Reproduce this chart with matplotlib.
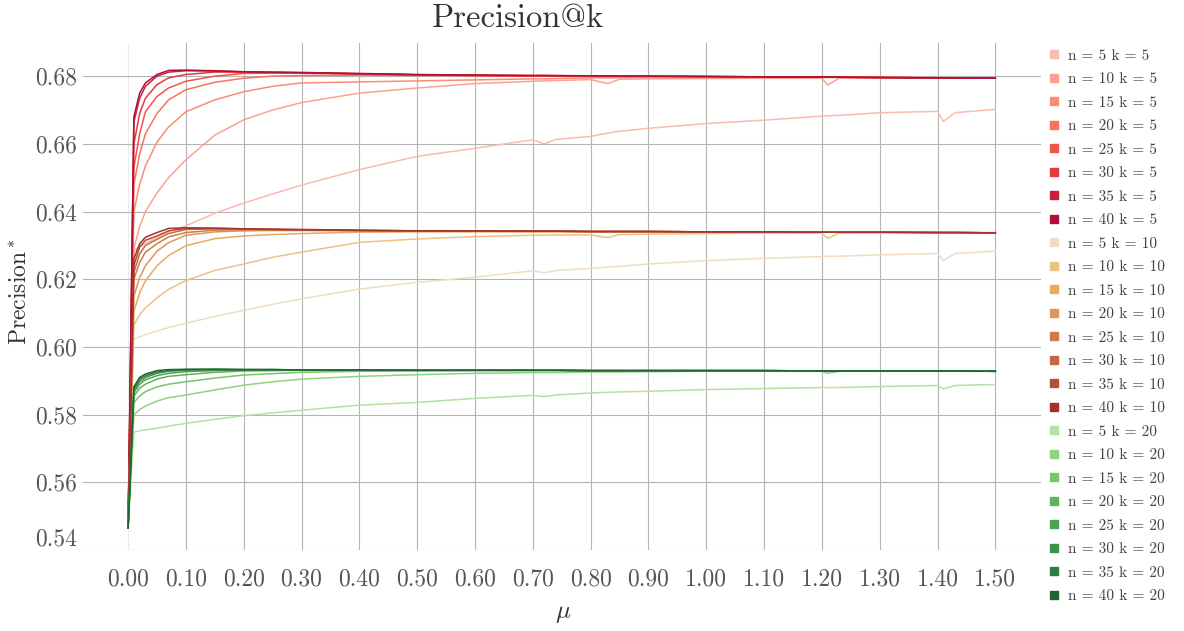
import numpy as np
import matplotlib
matplotlib.use("Agg")
import matplotlib.pyplot as plt
from matplotlib.lines import Line2D
from matplotlib.transforms import ScaledTranslation

plt.rcParams['font.family'] = ['cmr10', 'DejaVu Serif']
plt.rcParams['mathtext.fontset'] = 'cm'
plt.rcParams['axes.formatter.use_mathtext'] = True

mu = [0.00, 0.01, 0.02, 0.03, 0.05, 0.07, 0.10, 0.15, 0.20, 0.25, 0.30, 0.40, 0.50, 0.60, 0.70, 0.72,
      0.74, 0.80, 0.83, 0.85, 0.90, 1.00, 1.10, 1.20, 1.21, 1.23, 1.30, 1.40, 1.41, 1.43, 1.50]

n_values = [5, 10, 15, 20, 25, 30, 35, 40]
k_values = [5, 10, 20]

# k = 5
p_k5 = {}
p_k5[5] = [0.5465, 0.6285, 0.6296, 0.6306, 0.6324, 0.6340, 0.6358, 0.6395, 0.6425, 0.6452, 0.6478, 0.6524, 0.6563, 0.6587, 0.6612, 0.6600,
           0.6613, 0.6622, 0.6632, 0.6637, 0.6646, 0.6660, 0.6670, 0.6682, 0.6683, 0.6684, 0.6692, 0.6696, 0.6666, 0.6692, 0.6702]
p_k5[10] = [0.5465, 0.6290, 0.6355, 0.6400, 0.6455, 0.6500, 0.6553, 0.6626, 0.6671, 0.6700, 0.6722, 0.6750, 0.6765, 0.6778, 0.6785, 0.6786,
            0.6787, 0.6790, 0.6778, 0.6791, 0.6792, 0.6793, 0.6794, 0.6794, 0.6774, 0.6794, 0.6794, 0.6794, 0.6794, 0.6794, 0.6794]
p_k5[15] = [0.5465, 0.6400, 0.6480, 0.6535, 0.6605, 0.6650, 0.6695, 0.6730, 0.6754, 0.6770, 0.6780, 0.6783, 0.6786, 0.6789, 0.6792, 0.6792,
            0.6793, 0.6795, 0.6795, 0.6795, 0.6796, 0.6796, 0.6796, 0.6796, 0.6796, 0.6796, 0.6796, 0.6795, 0.6795, 0.6795, 0.6795]
p_k5[20] = [0.5465, 0.6480, 0.6570, 0.6630, 0.6690, 0.6730, 0.6760, 0.6782, 0.6794, 0.6800, 0.6802, 0.6803, 0.6802, 0.6801, 0.6800, 0.6800,
            0.6800, 0.6799, 0.6799, 0.6799, 0.6799, 0.6798, 0.6798, 0.6797, 0.6797, 0.6797, 0.6796, 0.6796, 0.6796, 0.6795, 0.6795]
p_k5[25] = [0.5465, 0.6530, 0.6630, 0.6695, 0.6740, 0.6765, 0.6785, 0.6800, 0.6808, 0.6809, 0.6809, 0.6806, 0.6804, 0.6802, 0.6801, 0.6801,
            0.6801, 0.6800, 0.6800, 0.6800, 0.6800, 0.6799, 0.6798, 0.6797, 0.6797, 0.6797, 0.6796, 0.6795, 0.6795, 0.6795, 0.6794]
p_k5[30] = [0.5465, 0.6600, 0.6690, 0.6735, 0.6775, 0.6795, 0.6805, 0.6812, 0.6812, 0.6811, 0.6810, 0.6807, 0.6804, 0.6802, 0.6801, 0.6801,
            0.6801, 0.6800, 0.6800, 0.6800, 0.6800, 0.6799, 0.6798, 0.6797, 0.6797, 0.6797, 0.6796, 0.6795, 0.6795, 0.6795, 0.6794]
p_k5[35] = [0.5465, 0.6665, 0.6735, 0.6770, 0.6800, 0.6812, 0.6816, 0.6815, 0.6813, 0.6811, 0.6810, 0.6807, 0.6804, 0.6803, 0.6802, 0.6802,
            0.6801, 0.6801, 0.6800, 0.6800, 0.6800, 0.6799, 0.6798, 0.6797, 0.6797, 0.6797, 0.6796, 0.6795, 0.6795, 0.6795, 0.6794]
p_k5[40] = [0.5465, 0.6680, 0.6750, 0.6780, 0.6805, 0.6817, 0.6818, 0.6816, 0.6813, 0.6812, 0.6811, 0.6808, 0.6805, 0.6803, 0.6802, 0.6802,
            0.6802, 0.6801, 0.6801, 0.6800, 0.6800, 0.6799, 0.6798, 0.6798, 0.6798, 0.6797, 0.6796, 0.6795, 0.6795, 0.6795, 0.6794]

# k = 10
p_k10 = {}
p_k10[5] = [0.5465, 0.6024, 0.6030, 0.6036, 0.6047, 0.6057, 0.6070, 0.6090, 0.6108, 0.6126, 0.6142, 0.6171, 0.6191, 0.6206, 0.6225, 0.6219,
            0.6226, 0.6232, 0.6236, 0.6238, 0.6245, 0.6255, 0.6262, 0.6267, 0.6268, 0.6268, 0.6272, 0.6276, 0.6255, 0.6276, 0.6283]
p_k10[10] = [0.5465, 0.6065, 0.6095, 0.6115, 0.6145, 0.6170, 0.6196, 0.6226, 0.6245, 0.6265, 0.6280, 0.6309, 0.6319, 0.6326, 0.6330, 0.6330,
             0.6331, 0.6331, 0.6323, 0.6332, 0.6333, 0.6335, 0.6336, 0.6336, 0.6321, 0.6336, 0.6337, 0.6337, 0.6337, 0.6337, 0.6337]
p_k10[15] = [0.5465, 0.6105, 0.6160, 0.6195, 0.6240, 0.6270, 0.6299, 0.6320, 0.6328, 0.6332, 0.6335, 0.6339, 0.6340, 0.6340, 0.6340, 0.6340,
             0.6340, 0.6340, 0.6340, 0.6340, 0.6340, 0.6339, 0.6339, 0.6339, 0.6339, 0.6339, 0.6338, 0.6338, 0.6338, 0.6338, 0.6338]
p_k10[20] = [0.5465, 0.6150, 0.6205, 0.6240, 0.6283, 0.6308, 0.6330, 0.6340, 0.6343, 0.6344, 0.6344, 0.6343, 0.6342, 0.6342, 0.6341, 0.6341,
             0.6341, 0.6341, 0.6341, 0.6341, 0.6341, 0.6340, 0.6340, 0.6339, 0.6339, 0.6339, 0.6339, 0.6338, 0.6338, 0.6338, 0.6337]
p_k10[25] = [0.5465, 0.6200, 0.6250, 0.6280, 0.6305, 0.6325, 0.6338, 0.6345, 0.6346, 0.6346, 0.6345, 0.6344, 0.6343, 0.6342, 0.6342, 0.6342,
             0.6342, 0.6341, 0.6341, 0.6341, 0.6341, 0.6340, 0.6340, 0.6339, 0.6339, 0.6339, 0.6339, 0.6338, 0.6338, 0.6338, 0.6337]
p_k10[30] = [0.5465, 0.6220, 0.6275, 0.6300, 0.6318, 0.6335, 0.6347, 0.6349, 0.6348, 0.6347, 0.6346, 0.6344, 0.6343, 0.6342, 0.6342, 0.6342,
             0.6342, 0.6341, 0.6341, 0.6341, 0.6341, 0.6340, 0.6340, 0.6339, 0.6339, 0.6339, 0.6339, 0.6338, 0.6338, 0.6338, 0.6337]
p_k10[35] = [0.5465, 0.6240, 0.6295, 0.6315, 0.6328, 0.6343, 0.6350, 0.6350, 0.6349, 0.6347, 0.6346, 0.6344, 0.6343, 0.6343, 0.6342, 0.6342,
             0.6342, 0.6341, 0.6341, 0.6341, 0.6341, 0.6340, 0.6340, 0.6339, 0.6339, 0.6339, 0.6339, 0.6338, 0.6338, 0.6338, 0.6337]
p_k10[40] = [0.5465, 0.6260, 0.6305, 0.6324, 0.6338, 0.6350, 0.6352, 0.6351, 0.6349, 0.6348, 0.6347, 0.6345, 0.6343, 0.6343, 0.6342, 0.6342,
             0.6342, 0.6341, 0.6341, 0.6341, 0.6341, 0.6340, 0.6340, 0.6339, 0.6339, 0.6339, 0.6339, 0.6338, 0.6338, 0.6338, 0.6337]

# k = 20
p_k20 = {}
p_k20[5] = [0.5465, 0.5748, 0.5752, 0.5755, 0.5760, 0.5766, 0.5774, 0.5786, 0.5797, 0.5805, 0.5813, 0.5828, 0.5836, 0.5848, 0.5857, 0.5853,
            0.5858, 0.5864, 0.5866, 0.5867, 0.5869, 0.5874, 0.5877, 0.5880, 0.5880, 0.5880, 0.5883, 0.5886, 0.5876, 0.5886, 0.5889]
p_k20[10] = [0.5465, 0.5800, 0.5815, 0.5825, 0.5840, 0.5850, 0.5858, 0.5873, 0.5887, 0.5897, 0.5905, 0.5913, 0.5918, 0.5922, 0.5924, 0.5924,
             0.5924, 0.5926, 0.5926, 0.5926, 0.5927, 0.5928, 0.5928, 0.5928, 0.5922, 0.5928, 0.5928, 0.5928, 0.5928, 0.5928, 0.5928]
p_k20[15] = [0.5465, 0.5835, 0.5855, 0.5868, 0.5882, 0.5890, 0.5897, 0.5908, 0.5917, 0.5921, 0.5925, 0.5928, 0.5929, 0.5930, 0.5930, 0.5930,
             0.5930, 0.5930, 0.5930, 0.5930, 0.5930, 0.5930, 0.5929, 0.5929, 0.5929, 0.5929, 0.5929, 0.5929, 0.5929, 0.5929, 0.5928]
p_k20[20] = [0.5465, 0.5855, 0.5878, 0.5890, 0.5905, 0.5913, 0.5918, 0.5925, 0.5929, 0.5930, 0.5931, 0.5931, 0.5931, 0.5931, 0.5931, 0.5931,
             0.5931, 0.5930, 0.5930, 0.5930, 0.5930, 0.5930, 0.5930, 0.5929, 0.5929, 0.5929, 0.5929, 0.5929, 0.5929, 0.5929, 0.5928]
p_k20[25] = [0.5465, 0.5865, 0.5890, 0.5903, 0.5915, 0.5922, 0.5927, 0.5930, 0.5932, 0.5932, 0.5932, 0.5931, 0.5931, 0.5931, 0.5931, 0.5931,
             0.5931, 0.5930, 0.5930, 0.5930, 0.5930, 0.5930, 0.5930, 0.5929, 0.5929, 0.5929, 0.5929, 0.5929, 0.5929, 0.5929, 0.5928]
p_k20[30] = [0.5465, 0.5872, 0.5898, 0.5910, 0.5922, 0.5928, 0.5931, 0.5933, 0.5933, 0.5933, 0.5932, 0.5932, 0.5931, 0.5931, 0.5931, 0.5931,
             0.5931, 0.5930, 0.5930, 0.5930, 0.5930, 0.5930, 0.5930, 0.5929, 0.5929, 0.5929, 0.5929, 0.5929, 0.5929, 0.5929, 0.5928]
p_k20[35] = [0.5465, 0.5878, 0.5905, 0.5915, 0.5926, 0.5931, 0.5933, 0.5934, 0.5933, 0.5933, 0.5932, 0.5932, 0.5931, 0.5931, 0.5931, 0.5931,
             0.5931, 0.5930, 0.5930, 0.5930, 0.5930, 0.5930, 0.5930, 0.5929, 0.5929, 0.5929, 0.5929, 0.5929, 0.5929, 0.5929, 0.5928]
p_k20[40] = [0.5465, 0.5882, 0.5910, 0.5920, 0.5930, 0.5933, 0.5934, 0.5934, 0.5933, 0.5933, 0.5932, 0.5932, 0.5931, 0.5931, 0.5931, 0.5931,
             0.5931, 0.5930, 0.5930, 0.5930, 0.5930, 0.5930, 0.5930, 0.5929, 0.5929, 0.5929, 0.5929, 0.5929, 0.5929, 0.5929, 0.5928]

colors_k5 = ['#fbbbb0', '#fca290', '#fc8b74', '#f8735e', '#f05548', '#e33a42', '#cc1f3d', '#ae1038']
colors_k10 = ['#f0dcc0', '#ecc184', '#e7aa60', '#e09458', '#cd7c4c', '#c46842', '#b74e38', '#a2332c']
colors_k20 = ['#b3e1a6', '#8fd37c', '#78c56a', '#62b25c', '#4ea354', '#3d924a', '#2d7e40', '#1f6436']

series = [(5, p_k5, colors_k5), (10, p_k10, colors_k10), (20, p_k20, colors_k20)]

fig = plt.figure(figsize=(11.84, 6.31), dpi=100)
ax = fig.add_axes([83/1184, 1-550/631, (1041-83)/1184, (550-43)/631])

handles = []
for k, data, cols in series:
    for n, c in zip(n_values, cols):
        ax.plot(mu, data[n], color=c, lw=1.1, solid_joinstyle='round')
        handles.append(Line2D([], [], ls='none', marker='s', markersize=5.5, color=c,
                              label="n = " + str(n) + " k = " + str(k)))

ax.set_xlim(-0.078, 1.579)
ax.set_ylim(0.5405, 0.6898)
ax.set_xticks(np.arange(0, 1.51, 0.1))
ax.set_xticklabels(["%.2f" % t for t in np.arange(0, 1.51, 0.1)])
ax.set_yticks([0.54, 0.56, 0.58, 0.60, 0.62, 0.64, 0.66, 0.68])
ax.set_yticklabels(["0.54", "0.56", "0.58", "0.60", "0.62", "0.64", "0.66", "0.68"])
ax.grid(True, color='#b4b4b4', lw=0.8)
ax.set_axisbelow(True)
ax.xaxis.get_gridlines()[0].set_color('#ececec')
for s in ax.spines.values():
    s.set_visible(False)
ax.tick_params(length=0, labelsize=17, colors='#555555')
ax.tick_params(axis='x', pad=13)
ax.tick_params(axis='y', pad=4)

# lowest y label sits a bit above the axis edge
lab = ax.get_yticklabels()[0]
lab.set_transform(lab.get_transform() + ScaledTranslation(0, 13/100, fig.dpi_scale_trans))

fig.text(518/1184, 1-18/631, "Precision@k", fontsize=23.5, color='#333333', ha='center', va='center')
fig.text(20/1184, 1-292/631, "Precision$^*$", fontsize=17, color='#333333', rotation=90, ha='center', va='center')
fig.text(563/1184, 1-614/631, r"$\mu$", fontsize=18, color='#333333', ha='center', va='center')

fig.legend(handles=handles, loc='upper left', bbox_to_anchor=(1048/1184, 1-49/631), frameon=False,
           fontsize=11, handlelength=0.8, handletextpad=0.5, labelspacing=0.64, borderpad=0,
           borderaxespad=0, labelcolor='#444444')

fig.savefig("out.png", dpi=100)
